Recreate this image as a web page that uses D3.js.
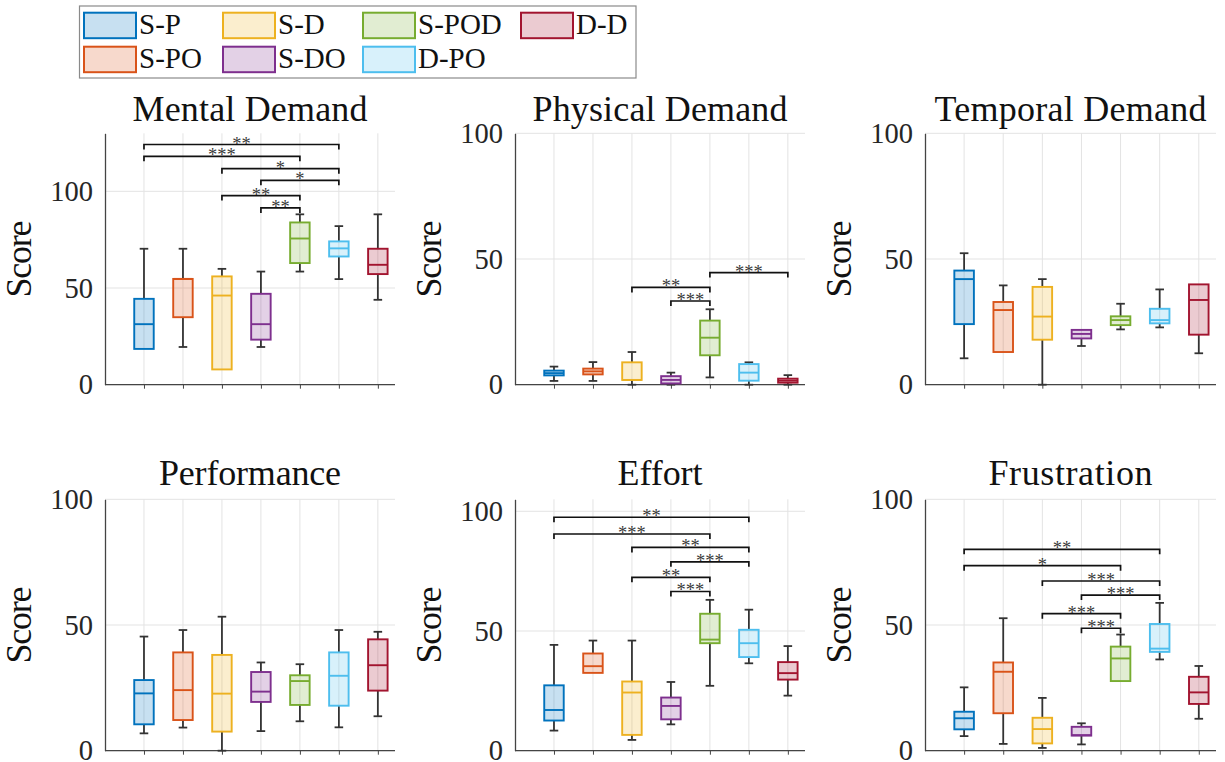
<!DOCTYPE html>
<html><head><meta charset="utf-8">
<script src="https://cdn.jsdelivr.net/npm/d3@7"></script>
<style>body{margin:0;background:#fff}svg{display:block}</style>
</head><body>
<svg id="c" width="1225" height="762"></svg>
<script>
// ---------- data ----------
const categories = ["S-P","S-PO","S-D","S-DO","S-POD","D-PO","D-D"];
const legendOrder = ["S-P","S-D","S-POD","D-D","S-PO","S-DO","D-PO"];
const panelTitles = ["Mental Demand","Physical Demand","Temporal Demand","Performance","Effort","Frustration"];
const yMax = [130, 100, 100, 100, 105, 100];
const yTicks = [0, 50, 100];
// each entry: [min, q1, median, q3, max]
const mentalDemand = [[18.5,18.5,31.3,44.4,70.3],[19.5,34.9,54.7,54.7,70.3],[7.9,7.9,46.1,56.0,59.9],[19.5,23.3,31.3,47.0,58.5],[58.5,62.9,75.6,83.9,88.1],[54.6,66.3,70.5,74.1,82.0],[43.9,57.2,62.0,70.3,88.1]];
const physicalDemand = [[1.5,3.7,4.6,5.6,7.2],[1.5,4.1,5.3,6.4,9.0],[0,1.9,1.9,8.9,13.0],[0,0.5,1.9,3.4,4.8],[2.9,11.7,18.7,25.5,30.0],[0,1.6,4.8,8.2,8.9],[0,0.8,1.6,2.4,3.8]];
const temporalDemand = [[10.5,24.1,42.0,45.4,52.3],[13.0,13.0,29.7,32.9,39.5],[0,17.9,27.1,38.9,42.0],[15.4,18.4,20.2,21.8,21.8],[22.0,23.7,25.7,27.2,32.2],[22.8,24.4,25.7,30.2,37.9],[12.5,19.9,33.7,39.9,39.9]];
const performance = [[6.9,10.5,22.8,28.1,45.4],[9.2,12.2,24.1,39.1,48.0],[0,7.6,22.7,38.1,53.3],[7.8,19.4,23.5,31.3,35.1],[11.7,18.2,27.7,30.0,34.4],[9.3,17.9,29.8,39.1,48.0],[13.7,23.9,34.0,44.3,47.3]];
const effort = [[8.4,12.6,17.0,27.3,44.2],[32.5,32.5,35.3,40.6,46.0],[4.5,6.6,24.3,28.9,46.0],[11.0,13.1,18.7,22.2,28.7],[27.1,44.9,46.4,57.2,63.0],[36.5,39.1,44.9,50.5,58.9],[23.0,29.7,32.4,37.0,43.7]];
const frustration = [[5.8,8.5,12.9,15.5,25.2],[2.7,14.9,31.4,35.1,52.7],[1.1,2.9,8.6,13.1,21.0],[2.5,6.0,6.2,9.5,10.9],[27.7,27.7,36.7,41.4,46.2],[36.3,39.3,40.6,50.4,58.8],[12.7,18.6,23.2,29.4,33.7]];
// significance brackets: [fromCategory, toCategory, height, label]
const mentalSig = [[1,6,124.2,"**"],[1,5,118.1,"***"],[3,6,111.7,"*"],[4,6,105.7,"*"],[3,5,97.8,"**"],[4,5,91.4,"**"]];
const physicalSig = [[5,7,44.6,"***"],[3,5,38.7,"**"],[4,5,33.3,"***"]];
const temporalSig = [];
const performanceSig = [];
const effortSig = [[1,6,97.5,"**"],[1,5,90.5,"***"],[3,6,84.9,"**"],[4,6,78.9,"***"],[3,5,72.4,"**"],[4,5,66.5,"***"]];
const frustrationSig = [[1,6,80.1,"**"],[1,5,73.6,"*"],[3,6,67.5,"***"],[4,6,61.9,"***"],[3,5,54.5,"***"],[4,5,48.7,"***"]];

const panelData = [mentalDemand, physicalDemand, temporalDemand, performance, effort, frustration];
const panelSig = [mentalSig, physicalSig, temporalSig, performanceSig, effortSig, frustrationSig];

// ---------- style ----------
const FONT = '"Liberation Serif", "Times New Roman", serif';
const colors = ["#0072BD","#D95319","#EDB120","#7E2F8E","#77AC30","#4DBEEE","#A2142F"];
const color = d3.scaleOrdinal().domain(categories).range(colors);
const colLeft = [105, 515, 925], colWidth = [290, 290, 291];
const rowTop = [133.3, 499.3], rowBottom = [384.7, 750.7];
const titleWidths = [235, 255, 272, 182, 85, 164];

const svg = d3.select("#c");

panelTitles.forEach((title, p) => {
  const col = p % 3, row = Math.floor(p / 3);
  const x0 = colLeft[col], x1 = x0 + colWidth[col];
  const y0 = rowTop[row], y1 = rowBottom[row];
  const x = d3.scaleLinear().domain([0, 7.44]).range([x0, x1]);
  const y = d3.scaleLinear().domain([0, yMax[p]]).range([y1, y0]);
  const g = svg.append("g");

  // grid
  g.selectAll(".vg").data(categories).join("line")
    .attr("x1", (d,i)=>x(i+1)).attr("x2", (d,i)=>x(i+1))
    .attr("y1", y0).attr("y2", y1).attr("stroke", "#e3e3e3").attr("stroke-width", 1);
  g.selectAll(".hg").data(yTicks).join("line")
    .attr("x1", x0).attr("x2", x1).attr("y1", d=>y(d)).attr("y2", d=>y(d))
    .attr("stroke", "#e3e3e3").attr("stroke-width", 1);

  // axes
  const yAxis = d3.axisLeft(y).tickValues(yTicks).tickSize(0).tickPadding(12).tickFormat(d3.format("d"));
  const ga = g.append("g").attr("transform", `translate(${x0},0)`).call(yAxis);
  ga.select(".domain").attr("stroke", "#444").attr("stroke-width", 1.3);
  ga.selectAll("text").attr("font-size", 28.5).attr("fill", "#262626").attr("dy", "0.32em")
    .style("font-family", FONT);
  const xAxis = d3.axisBottom(x).tickValues(d3.range(1, 8)).tickSize(4).tickFormat("");
  const gx = g.append("g").attr("transform", `translate(0,${y1})`).call(xAxis);
  gx.select(".domain").attr("stroke", "#444").attr("stroke-width", 1.3).attr("d", `M${x0},0H${x1}`);
  gx.selectAll(".tick line").attr("stroke", "#444");

  // title
  g.append("text").attr("x", (x0+x1)/2).attr("y", row === 0 ? 120.5 : 485)
    .attr("text-anchor", "middle").attr("font-size", 36).attr("fill", "#111")
    .style("font-family", FONT)
    .attr("textLength", titleWidths[p]).text(title);
  // y label
  g.append("text").attr("transform", `translate(${x0-74},${(y0+y1)/2}) rotate(-90)`)
    .attr("text-anchor", "middle").attr("font-size", 36).attr("fill", "#111")
    .style("font-family", FONT)
    .attr("textLength", 77).text("Score");

  // boxes
  const bw = 0.5, cw = 0.22;
  const boxes = g.selectAll(".box").data(panelData[p]).join("g");
  boxes.append("line").attr("x1", (d,i)=>x(i+1)).attr("x2", (d,i)=>x(i+1))
    .attr("y1", d=>y(d[3])).attr("y2", d=>y(d[4])).attr("stroke", "#333").attr("stroke-width", 1.8);
  boxes.append("line").attr("x1", (d,i)=>x(i+1)).attr("x2", (d,i)=>x(i+1))
    .attr("y1", d=>y(d[0])).attr("y2", d=>y(d[1])).attr("stroke", "#333").attr("stroke-width", 1.8);
  boxes.append("line").attr("x1", (d,i)=>x(i+1-cw/2)).attr("x2", (d,i)=>x(i+1+cw/2))
    .attr("y1", d=>y(d[4])).attr("y2", d=>y(d[4])).attr("stroke", "#333").attr("stroke-width", 1.8)
    .attr("display", d => d[4] > d[3] ? null : "none");
  boxes.append("line").attr("x1", (d,i)=>x(i+1-cw/2)).attr("x2", (d,i)=>x(i+1+cw/2))
    .attr("y1", d=>y(d[0])).attr("y2", d=>y(d[0])).attr("stroke", "#333").attr("stroke-width", 1.8)
    .attr("display", d => d[0] < d[1] ? null : "none");
  boxes.append("rect").attr("x", (d,i)=>x(i+1-bw/2)).attr("width", x(bw)-x(0))
    .attr("y", d=>y(d[3])).attr("height", d=>Math.max(0.5, y(d[1])-y(d[3])))
    .attr("fill", (d,i)=>color(categories[i])).attr("fill-opacity", 0.22)
    .attr("stroke", (d,i)=>color(categories[i])).attr("stroke-width", 1.9);
  boxes.append("line").attr("x1", (d,i)=>x(i+1-bw/2)).attr("x2", (d,i)=>x(i+1+bw/2))
    .attr("y1", d=>y(d[2])).attr("y2", d=>y(d[2]))
    .attr("stroke", (d,i)=>color(categories[i])).attr("stroke-width", 1.9);

  // significance brackets
  const br = g.selectAll(".sig").data(panelSig[p]).join("g");
  br.append("path").attr("fill", "none").attr("stroke", "#111").attr("stroke-width", 1.7)
    .attr("d", d => `M${x(d[0])},${y(d[2])+5}V${y(d[2])}H${x(d[1])}V${y(d[2])+5}`);
  br.append("text").attr("x", d => (x(d[0])+x(d[1]))/2).attr("y", d => y(d[2])+5)
    .attr("text-anchor", "middle").attr("font-size", 18.5).attr("fill", "#3a3a3a")
    .style("font-family", FONT).text(d => d[3]);
});

// ---------- legend ----------
const lg = svg.append("g");
lg.append("rect").attr("x", 79.5).attr("y", 6).attr("width", 556.5).attr("height", 72)
  .attr("fill", "#fff").attr("stroke", "#8a8a8a").attr("stroke-width", 1.2);
const legX = [84, 223, 363, 521], legY = [12.7, 46.7];
const items = lg.selectAll(".li").data(legendOrder).join("g")
  .attr("transform", (d,i) => `translate(${legX[i % 4]},${legY[Math.floor(i / 4)]})`);
items.append("rect").attr("width", 52).attr("height", 25.5)
  .attr("fill", d => color(d)).attr("fill-opacity", 0.22)
  .attr("stroke", d => color(d)).attr("stroke-width", 2);
items.append("text").attr("x", 55).attr("y", 21).attr("font-size", 29).attr("fill", "#111")
  .style("font-family", FONT).text(d => d);
</script>
</body></html>
